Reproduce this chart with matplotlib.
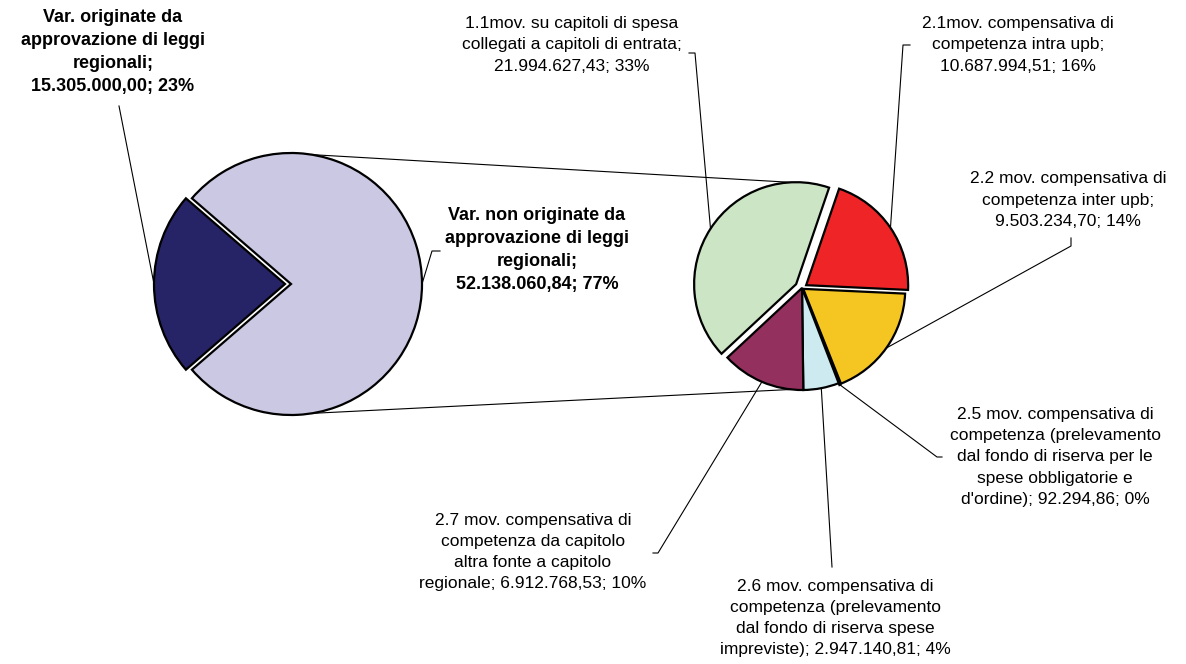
import math

import matplotlib

matplotlib.use("Agg")
import matplotlib.pyplot as plt

plt.rcParams["font.family"] = ["Liberation Sans", "DejaVu Sans"]

# primary pie: origin of the variations
main_labels = [
    "Var. originate da\napprovazione di leggi\nregionali;\n15.305.000,00; 23%",
    "Var. non originate da\napprovazione di leggi\nregionali;\n52.138.060,84; 77%",
]
main_values = [15305000.00, 52138060.84]
main_colors = ["#262466", "#CBC8E3"]

# secondary pie: breakdown of "non originate"
sub_labels = [
    "1.1mov. su capitoli di spesa\ncollegati a capitoli di entrata;\n21.994.627,43; 33%",
    "2.1mov. compensativa di\ncompetenza intra upb;\n10.687.994,51; 16%",
    "2.2 mov. compensativa di\ncompetenza inter upb;\n9.503.234,70; 14%",
    "2.5 mov. compensativa di\ncompetenza (prelevamento\ndal fondo di riserva per le\nspese obbligatorie e\nd'ordine); 92.294,86; 0%",
    "2.6 mov. compensativa di\ncompetenza (prelevamento\ndal fondo di riserva spese\nimpreviste); 2.947.140,81; 4%",
    "2.7 mov. compensativa di\ncompetenza da capitolo\naltra fonte a capitolo\nregionale; 6.912.768,53; 10%",
]
sub_values = [21994627.43, 10687994.51, 9503234.70, 92294.86, 2947140.81, 6912768.53]
sub_colors = ["#CCE5C5", "#EE2426", "#F5C621", "#000000", "#CDEAF0", "#94305E"]

W, H = 1186, 664


def px(x, y):
    # pixel layout (y down) -> data coords (y up)
    return x, H - y


fig = plt.figure(figsize=(W / 100, H / 100), dpi=100)
ax = fig.add_axes([0, 0, 1, 1])

edge = dict(edgecolor="black", linewidth=1.6)

c1 = px(291, 284)
r1 = 131
w1, _ = ax.pie(
    main_values,
    colors=main_colors,
    center=c1,
    radius=r1,
    startangle=180 - 360 * main_values[0] / sum(main_values) / 2,
    explode=[6, 0],
    wedgeprops=edge,
)

c2 = px(802, 288)
r2 = 102
w2, _ = ax.pie(
    sub_values,
    colors=sub_colors,
    center=c2,
    radius=r2,
    startangle=223,
    counterclock=False,
    explode=[7, 5, 1.5, 2, 0, 0],
    wedgeprops=edge,
)


def rim(w, ang):
    cx, cy = w.center
    a = math.radians(ang)
    return cx + w.r * math.cos(a), cy + w.r * math.sin(a)


def mid(w):
    return (w.theta1 + w.theta2) / 2


# connector lines between the two pies
lav = w1[1]
for a_left, wedge, a_right in [(81, w2[0], 93), (-81, w2[5], 264)]:
    p = rim(lav, a_left)
    q = rim(wedge, a_right)
    ax.plot([p[0], q[0]], [p[1], q[1]], color="black", lw=0.8, zorder=0)

txt = dict(ha="center", va="center", fontsize=12.5, linespacing=1.51)
btxt = dict(ha="center", va="center", fontsize=13, linespacing=1.45,
            fontweight="bold")

main_pos = [(113, 52), (537, 250)]
main_lead = [[(119, 106)], [(440, 251), (432, 251)]]
for lab, pos, lead, w in zip(main_labels, main_pos, main_lead, w1):
    ax.text(*px(*pos), lab, **btxt)
    pts = [px(*p) for p in lead] + [rim(w, mid(w))]
    ax.plot([p[0] for p in pts], [p[1] for p in pts], color="black", lw=0.8)

sub_pos = [(572, 45), (1018, 45), (1068, 200), (1055, 457), (835, 618), (533, 552)]
sub_lead = [
    [(689, 53), (695, 53)],
    [(910, 45), (903, 45)],
    [(1071, 238), (1071, 246)],
    [(942, 457), (937, 457)],
    [(832, 567)],
    [(653, 553), (658, 553)],
]
for lab, pos, lead, w in zip(sub_labels, sub_pos, sub_lead, w2):
    ax.text(*px(*pos), lab, **txt)
    pts = [px(*p) for p in lead] + [rim(w, mid(w))]
    ax.plot([p[0] for p in pts], [p[1] for p in pts], color="black", lw=0.8)

ax.set_xlim(0, W)
ax.set_ylim(0, H)
ax.set_aspect("equal")
ax.axis("off")

fig.savefig("out.png", dpi=100, facecolor="white")
